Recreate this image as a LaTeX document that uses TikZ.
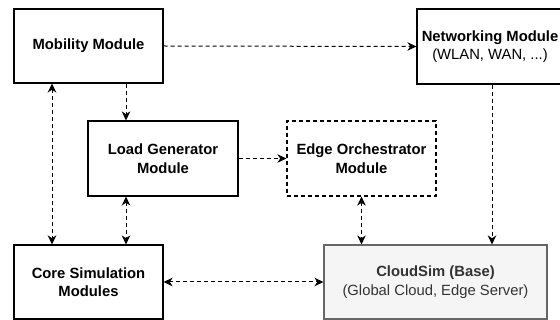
\documentclass[tikz,border=0pt]{standalone}
\usepackage{fontspec}
\setmainfont{Liberation Sans}
\usetikzlibrary{arrows.meta}
\definecolor{cloudfill}{HTML}{F5F5F5}
\definecolor{cloudline}{HTML}{666666}
\definecolor{cloudtext}{HTML}{333333}
\begin{document}
\begin{tikzpicture}[x=1pt,y=-1pt,
  modbox/.style={draw=black,line width=1.1pt,rectangle,align=center,
    inner sep=0pt,font=\fontsize{14.8}{18.5}\selectfont},
  arr/.style={line width=1pt,dash pattern=on 4pt off 3pt,-{Stealth[length=9pt,width=8.5pt,inset=2.8pt]}},
  biarr/.style={line width=1pt,dash pattern=on 4pt off 3pt,
    {Stealth[length=9pt,width=8.5pt,inset=2.8pt]}-{Stealth[length=9pt,width=8.5pt,inset=2.8pt]}}]
  \useasboundingbox (0,0) rectangle (560,320);
  \clip (0,0) rectangle (560,320);

  % modules
  \node[modbox,minimum width=149pt,minimum height=74pt] (mob) at (88.5,46)
    {\textbf{Mobility Module}};
  \node[modbox,minimum width=146pt,minimum height=75pt] (net) at (490,46.5)
    {\textbf{Networking Module}\\(WLAN, WAN, ...)};
  \node[modbox,minimum width=150pt,minimum height=75pt] (lg) at (163,158.5)
    {\textbf{Load Generator}\\\textbf{Module}};
  \node[modbox,line width=1.2pt,dash pattern=on 4pt off 3pt,minimum width=149pt,minimum height=75pt] (eo) at (361.5,158.5)
    {\textbf{Edge Orchestrator}\\\textbf{Module}};
  \node[modbox,minimum width=149pt,minimum height=74pt] (core) at (88.5,282)
    {\textbf{Core Simulation}\\\textbf{Modules}};
  \node[modbox,draw=cloudline,fill=cloudfill,text=cloudtext,minimum width=223pt,minimum height=74pt] (cs) at (435.5,282)
    {\textbf{CloudSim (Base)}\\(Global Cloud, Edge Server)};

  % vertical connector lanes
  \coordinate (laneA) at (126,0);
  \coordinate (laneB) at (52,0);
  \coordinate (laneC) at (492,0);

  % connectors
  \draw[arr] (mob.east) -- (net.west);
  \draw[arr] (mob.south -| laneA) -- (lg.north -| laneA);
  \draw[biarr] (mob.south -| laneB) -- (core.north -| laneB);
  \draw[arr] (lg.east) -- (eo.west);
  \draw[biarr] (lg.south -| laneA) -- (core.north -| laneA);
  \draw[biarr] (eo.south) -- (eo.south |- cs.north);
  \draw[arr] (net.south -| laneC) -- (cs.north -| laneC);
  \draw[biarr] (core.east) -- (cs.west);
\end{tikzpicture}
\end{document}
